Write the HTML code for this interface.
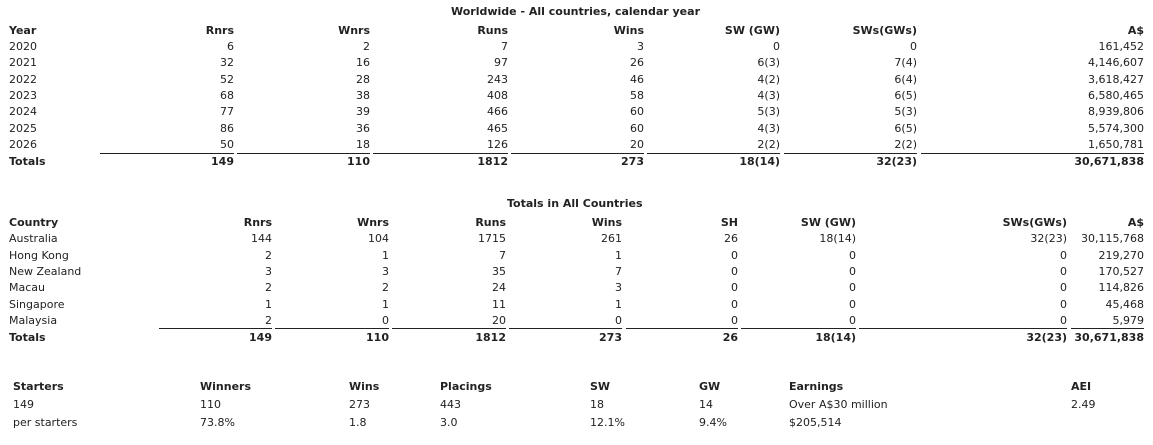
<!DOCTYPE html>
<html><head><meta charset="utf-8"><style>
body{margin:0;width:1153px;height:445px;background:#fff;position:relative;overflow:hidden;font-family:"DejaVu Sans","Liberation Sans",sans-serif;font-size:11px;color:#222;}
.row{position:absolute;left:0;width:1153px;height:14px;line-height:14px;}
.row span{position:absolute;white-space:nowrap;}
.b{font-weight:bold;}
.l0{left:9px}
.a1{right:919px}.a2{right:783px}.a3{right:645px}.a4{right:509px}.a5{right:373px}.a6{right:236px}.a7{right:9px}
.b1{right:881px}.b2{right:764px}.b3{right:647px}.b4{right:531px}.b5{right:415px}.b6{right:297px}.b7{right:86px}.b8{right:9px}
.ln{position:absolute;height:1px;background:#222;}
.t{position:absolute;font-weight:bold;white-space:nowrap;line-height:14px;}
.c1{left:13px}.c2{left:200px}.c3{left:349px}.c4{left:440px}.c5{left:590px}.c6{left:699px}.c7{left:789px}.c8{left:1071px}
</style></head><body>
<div class="t" style="left:451px;top:5px">Worldwide - All countries, calendar year</div>
<div class="row b" style="top:24px"><span class="l0">Year</span><span class="a1">Rnrs</span><span class="a2">Wnrs</span><span class="a3">Runs</span><span class="a4">Wins</span><span class="a5">SW (GW)</span><span class="a6">SWs(GWs)</span><span class="a7">A$</span></div>
<div class="row" style="top:40px"><span class="l0">2020</span><span class="a1">6</span><span class="a2">2</span><span class="a3">7</span><span class="a4">3</span><span class="a5">0</span><span class="a6">0</span><span class="a7">161,452</span></div>
<div class="row" style="top:56px"><span class="l0">2021</span><span class="a1">32</span><span class="a2">16</span><span class="a3">97</span><span class="a4">26</span><span class="a5">6(3)</span><span class="a6">7(4)</span><span class="a7">4,146,607</span></div>
<div class="row" style="top:73px"><span class="l0">2022</span><span class="a1">52</span><span class="a2">28</span><span class="a3">243</span><span class="a4">46</span><span class="a5">4(2)</span><span class="a6">6(4)</span><span class="a7">3,618,427</span></div>
<div class="row" style="top:89px"><span class="l0">2023</span><span class="a1">68</span><span class="a2">38</span><span class="a3">408</span><span class="a4">58</span><span class="a5">4(3)</span><span class="a6">6(5)</span><span class="a7">6,580,465</span></div>
<div class="row" style="top:105px"><span class="l0">2024</span><span class="a1">77</span><span class="a2">39</span><span class="a3">466</span><span class="a4">60</span><span class="a5">5(3)</span><span class="a6">5(3)</span><span class="a7">8,939,806</span></div>
<div class="row" style="top:122px"><span class="l0">2025</span><span class="a1">86</span><span class="a2">36</span><span class="a3">465</span><span class="a4">60</span><span class="a5">4(3)</span><span class="a6">6(5)</span><span class="a7">5,574,300</span></div>
<div class="row" style="top:138px"><span class="l0">2026</span><span class="a1">50</span><span class="a2">18</span><span class="a3">126</span><span class="a4">20</span><span class="a5">2(2)</span><span class="a6">2(2)</span><span class="a7">1,650,781</span></div>
<div class="ln" style="top:153px;left:100px;width:134px"></div>
<div class="ln" style="top:153px;left:237px;width:133px"></div>
<div class="ln" style="top:153px;left:373px;width:135px"></div>
<div class="ln" style="top:153px;left:511px;width:133px"></div>
<div class="ln" style="top:153px;left:647px;width:133px"></div>
<div class="ln" style="top:153px;left:784px;width:133px"></div>
<div class="ln" style="top:153px;left:921px;width:223px"></div>
<div class="row b" style="top:155px"><span class="l0">Totals</span><span class="a1">149</span><span class="a2">110</span><span class="a3">1812</span><span class="a4">273</span><span class="a5">18(14)</span><span class="a6">32(23)</span><span class="a7">30,671,838</span></div>

<div class="t" style="left:507px;top:197px">Totals in All Countries</div>
<div class="row b" style="top:216px"><span class="l0">Country</span><span class="b1">Rnrs</span><span class="b2">Wnrs</span><span class="b3">Runs</span><span class="b4">Wins</span><span class="b5">SH</span><span class="b6">SW (GW)</span><span class="b7">SWs(GWs)</span><span class="b8">A$</span></div>
<div class="row" style="top:232px"><span class="l0">Australia</span><span class="b1">144</span><span class="b2">104</span><span class="b3">1715</span><span class="b4">261</span><span class="b5">26</span><span class="b6">18(14)</span><span class="b7">32(23)</span><span class="b8">30,115,768</span></div>
<div class="row" style="top:249px"><span class="l0">Hong Kong</span><span class="b1">2</span><span class="b2">1</span><span class="b3">7</span><span class="b4">1</span><span class="b5">0</span><span class="b6">0</span><span class="b7">0</span><span class="b8">219,270</span></div>
<div class="row" style="top:265px"><span class="l0">New Zealand</span><span class="b1">3</span><span class="b2">3</span><span class="b3">35</span><span class="b4">7</span><span class="b5">0</span><span class="b6">0</span><span class="b7">0</span><span class="b8">170,527</span></div>
<div class="row" style="top:281px"><span class="l0">Macau</span><span class="b1">2</span><span class="b2">2</span><span class="b3">24</span><span class="b4">3</span><span class="b5">0</span><span class="b6">0</span><span class="b7">0</span><span class="b8">114,826</span></div>
<div class="row" style="top:298px"><span class="l0">Singapore</span><span class="b1">1</span><span class="b2">1</span><span class="b3">11</span><span class="b4">1</span><span class="b5">0</span><span class="b6">0</span><span class="b7">0</span><span class="b8">45,468</span></div>
<div class="row" style="top:314px"><span class="l0">Malaysia</span><span class="b1">2</span><span class="b2">0</span><span class="b3">20</span><span class="b4">0</span><span class="b5">0</span><span class="b6">0</span><span class="b7">0</span><span class="b8">5,979</span></div>
<div class="ln" style="top:328px;left:159px;width:113px"></div>
<div class="ln" style="top:328px;left:275px;width:114px"></div>
<div class="ln" style="top:328px;left:392px;width:114px"></div>
<div class="ln" style="top:328px;left:509px;width:113px"></div>
<div class="ln" style="top:328px;left:626px;width:112px"></div>
<div class="ln" style="top:328px;left:741px;width:115px"></div>
<div class="ln" style="top:328px;left:859px;width:208px"></div>
<div class="ln" style="top:328px;left:1071px;width:73px"></div>
<div class="row b" style="top:331px"><span class="l0">Totals</span><span class="b1">149</span><span class="b2">110</span><span class="b3">1812</span><span class="b4">273</span><span class="b5">26</span><span class="b6">18(14)</span><span class="b7">32(23)</span><span class="b8">30,671,838</span></div>

<div class="row b" style="top:380px"><span class="c1">Starters</span><span class="c2">Winners</span><span class="c3">Wins</span><span class="c4">Placings</span><span class="c5">SW</span><span class="c6">GW</span><span class="c7">Earnings</span><span class="c8">AEI</span></div>
<div class="row" style="top:398px"><span class="c1">149</span><span class="c2">110</span><span class="c3">273</span><span class="c4">443</span><span class="c5">18</span><span class="c6">14</span><span class="c7">Over A$30 million</span><span class="c8">2.49</span></div>
<div class="row" style="top:416px"><span class="c1">per starters</span><span class="c2">73.8%</span><span class="c3">1.8</span><span class="c4">3.0</span><span class="c5">12.1%</span><span class="c6">9.4%</span><span class="c7">$205,514</span></div>
</body></html>
